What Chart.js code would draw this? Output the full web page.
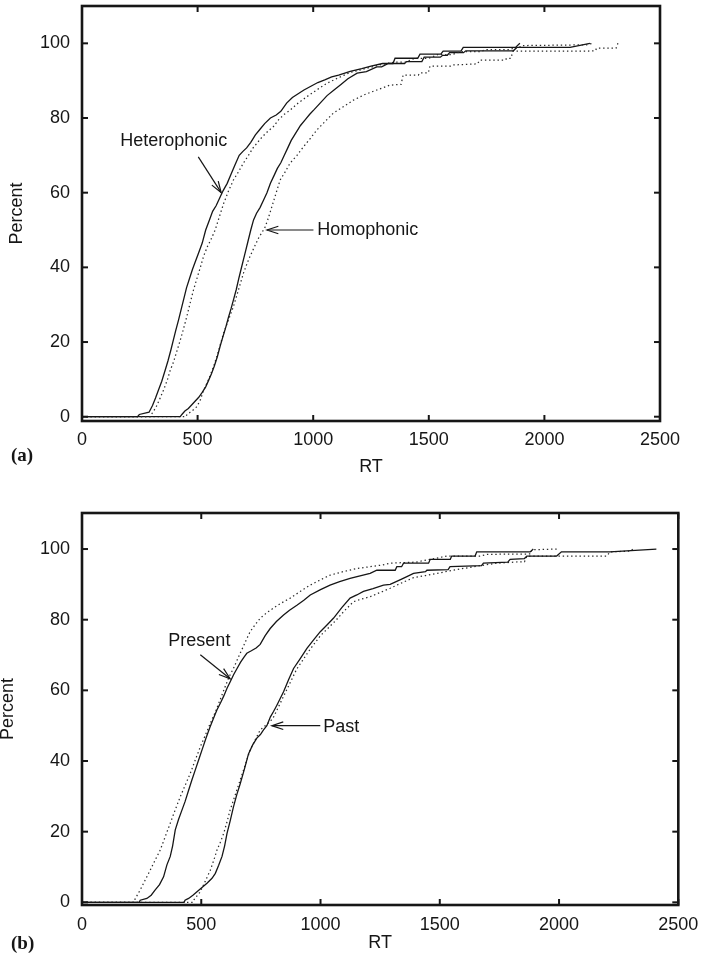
<!DOCTYPE html>
<html>
<head>
<meta charset="utf-8">
<script src="https://cdn.jsdelivr.net/npm/chart.js@4.4.1/dist/chart.umd.min.js"></script>
<style>
html,body{margin:0;padding:0;background:#fff;}
#wrap{position:relative;width:701px;height:955px;overflow:hidden;background:#fff;}
.panel{position:absolute;left:0;width:701px;}
canvas{display:block;}
</style>
</head>
<body>
<div id="wrap">
  <div class="panel" style="top:0;height:478px"><canvas id="ca" width="701" height="478" style="width:701px;height:478px"></canvas></div>
  <div class="panel" style="top:478px;height:477px"><canvas id="cb" width="701" height="477" style="width:701px;height:477px"></canvas></div>
</div>
<script>
// ---- tick labels / titles ----
const xTickValues = [0, 500, 1000, 1500, 2000, 2500];
const xTickLabels = ['0', '500', '1000', '1500', '2000', '2500'];
const yTickValues = [0, 20, 40, 60, 80, 100];
const yTickLabels = ['0', '20', '40', '60', '80', '100'];
const xTitle = 'RT';
const yTitle = 'Percent';

// ---- panel (a): [RT, cumulative percent] ----
const heteroSolid = [[0,0],[240,0],[248,0.6],[290,1.2],[305,3],[318,5],[330,7],[345,9.5],[360,12.5],[372,15],[385,18],[395,20.5],[405,23],[418,26],[430,29],[440,31.5],[452,34.5],[465,37],[478,39.5],[490,41.5],[505,44],[520,46.5],[535,50],[550,52.5],[565,55],[580,56.5],[595,58.5],[610,60.5],[628,62.5],[645,65],[662,67.5],[680,70],[695,71],[712,72],[730,73.5],[750,75.5],[770,77],[790,78.5],[815,80],[840,80.8],[860,81.8],[885,84],[910,85.5],[935,86.5],[960,87.5],[990,88.5],[1020,89.5],[1050,90.2],[1080,91],[1110,91.5],[1160,92.5],[1210,93.2],[1250,93.9],[1300,94.6],[1345,94.6],[1354,96],[1452,96],[1462,97.1],[1552,97.1],[1562,97.9],[1639,97.9],[1649,98.9],[1875,98.9],[1894,100]];
const heteroDotted = [[0,0],[295,0],[300,0.6],[320,2.5],[338,5],[355,7.5],[370,10],[382,12.5],[395,14.5],[410,17.5],[425,20.5],[439,23.5],[454,27],[468,30.5],[482,33.9],[497,37],[512,40],[526,43],[542,45.5],[558,47.5],[576,50],[594,53.5],[612,57],[634,60.5],[655,63.4],[676,65.5],[698,67.9],[720,70],[740,72],[756,73.2],[780,75],[805,76.5],[828,77.7],[850,79.5],[875,81],[900,82.1],[935,84],[972,85.7],[1015,87.5],[1059,89.3],[1110,90.8],[1160,92.2],[1230,93.3],[1300,94.4],[1354,95],[1400,95],[1440,96],[1500,96],[1540,97],[1600,97],[1640,97.8],[1720,97.8],[1750,98.3],[1850,98.3],[1870,98.8],[1890,98.8],[1900,99.4],[2180,99.6],[2210,100]];
const homoSolid = [[0,0],[425,0],[432,0.6],[445,1.5],[460,2.2],[475,3.2],[490,4.2],[505,5.2],[520,6.5],[535,8],[548,9.8],[560,11.5],[572,13.5],[585,16],[598,19],[610,21.5],[622,24],[633,26.5],[645,29],[656,31.5],[667,34],[678,37],[688,39.5],[698,42],[708,44.5],[718,47],[730,50],[742,52.7],[755,54.5],[770,56],[785,58],[800,60],[815,62.5],[830,64.5],[845,66.5],[860,68],[875,70],[890,72],[905,74],[925,76],[945,78],[965,79.5],[985,81],[1005,82.3],[1030,84],[1060,86],[1090,87.5],[1120,89],[1150,90.5],[1190,92],[1230,92.4],[1275,93.7],[1296,93.7],[1325,94.6],[1395,94.6],[1404,95.1],[1470,95.1],[1480,96.3],[1550,96.3],[1560,96.8],[1580,96.8],[1590,97.5],[1650,97.5],[1660,98],[1866,98],[1880,98.9],[2111,98.9],[2197,100]];
const homoDotted = [[0,0],[450,0],[454,0.6],[475,1.5],[497,2.7],[512,4.5],[526,7.1],[548,10],[569,13.4],[590,17.5],[612,22.3],[634,26],[655,29.5],[677,34],[698,38.4],[720,42],[742,45],[765,48],[790,50.5],[805,53],[821,56.2],[840,60],[857,63.4],[878,65.5],[900,67.9],[930,70],[958,72.3],[987,74.5],[1016,76.8],[1050,79],[1087,81.3],[1130,83],[1174,84.8],[1220,86.2],[1275,87.5],[1332,88.8],[1380,89],[1389,91.5],[1455,91.5],[1462,92.1],[1498,92.1],[1505,93.9],[1595,93.9],[1604,94.2],[1710,94.5],[1721,95.5],[1830,95.5],[1837,96],[1855,96],[1864,97.9],[2190,97.9],[2197,98],[2220,98],[2226,98.7],[2310,98.7],[2318,100]];

// ---- panel (b): [RT, cumulative percent] ----
const presentSolid = [[0,0],[240,0],[244,0.6],[272,1.1],[290,2],[307,3.5],[325,5],[342,7.2],[356,10.6],[370,13],[380,16],[391,20.5],[405,23.5],[419,26.1],[432,28.5],[446,31.5],[460,34.5],[475,37.5],[490,40.5],[505,43.5],[520,46.5],[536,49.5],[551,52],[566,54.5],[581,56.5],[595,58.5],[608,60.6],[622,62.5],[636,64.5],[650,66.2],[665,68],[680,69.5],[691,70.5],[710,71.2],[730,72],[747,73],[768,75.5],[789,77.5],[815,79.5],[845,81.3],[870,82.7],[901,84.1],[930,85.5],[957,87],[1000,88.5],[1040,89.8],[1080,90.8],[1124,91.7],[1170,92.5],[1208,93.1],[1236,94],[1313,94],[1320,95],[1340,95],[1348,96],[1453,96],[1460,97.1],[1544,97.1],[1550,98],[1648,98],[1655,99.2],[1879,99.2],[1892,100]];
const presentDotted = [[0,0],[218,0],[223,1],[244,3.5],[265,6.3],[286,9.1],[307,12],[328,14.8],[349,18.6],[370,22.4],[391,26.2],[412,29.9],[433,33.2],[454,36.5],[475,40.3],[496,44],[517,47.3],[538,50.7],[560,54],[580,57.5],[600,61],[618,64],[635,66.2],[650,68.5],[663,70.5],[677,72.5],[690,74.5],[705,76.6],[725,78.5],[747,80.4],[775,82],[803,83.3],[838,84.8],[873,86.1],[915,88],[957,89.8],[1000,91.3],[1040,92.6],[1095,93.6],[1152,94.5],[1208,95],[1260,95.5],[1292,96],[1400,96.3],[1446,96.9],[1530,98],[1669,98],[1700,98.5],[1880,98.6],[1886,99.8],[1996,100]];
const pastSolid = [[0,0],[428,0],[432,0.6],[447,1.1],[465,2],[482,3],[503,4.2],[524,5.4],[545,6.8],[559,8.2],[573,10.5],[587,13],[598,16],[608,19.5],[621,23],[635,27],[649,30.5],[663,33.5],[680,37.5],[698,42],[715,44.5],[733,46.5],[748,47.5],[761,48.8],[775,50],[790,52.5],[803,54],[817,55.8],[831,57.7],[845,59.6],[866,63],[887,66.2],[915,69],[943,71.9],[971,74.3],[999,76.6],[1027,78.5],[1054,80.4],[1090,83.5],[1124,86.1],[1152,87],[1180,88],[1220,88.8],[1264,89.8],[1292,90],[1340,91.5],[1362,92.2],[1390,93.1],[1440,93.6],[1446,94],[1535,94.2],[1543,95],[1675,95.3],[1683,96],[1785,96.3],[1795,97.1],[1855,97.3],[1865,98],[1990,98],[2010,99.2],[2213,99.2],[2408,100]];
const pastDotted = [[0,0],[465,0],[470,0.8],[496,3],[517,6],[538,9.1],[552,11.8],[566,14.8],[580,17],[594,19.5],[608,22.8],[621,26.1],[642,30.3],[663,34.6],[684,38.8],[705,43.1],[726,46],[747,48.8],[772,50.2],[800,52],[825,55.5],[850,59],[875,62.5],[900,66],[925,68.5],[950,71],[975,73.3],[1000,75.5],[1030,77.5],[1060,79.5],[1100,82.5],[1138,85.1],[1170,85.8],[1208,86.5],[1250,87.7],[1292,88.9],[1340,90.4],[1390,91.9],[1440,92.5],[1488,93.1],[1540,93.8],[1599,94.5],[1670,95.3],[1739,96],[1837,96.4],[1855,96.4],[1865,98],[2200,98],[2214,99.2],[2300,99.4],[2310,100]];

const FONT = "'Liberation Sans', Arial, Helvetica, sans-serif";
const INK = '#161616';

function series(points, dotted) {
  return {
    data: points.map(p => ({x: p[0], y: p[1]})),
    borderColor: dotted ? '#2a2a2a' : INK,
    borderWidth: dotted ? 1.25 : 1.3,
    borderDash: dotted ? [1.4, 2.8] : [],
    pointRadius: 0,
    fill: false,
    tension: 0
  };
}

const framePlugin = {
  id: 'frame',
  afterDraw(chart, args, o) {
    const {ctx, chartArea: a} = chart;
    const x = chart.scales.x, y = chart.scales.y;
    ctx.save();
    ctx.strokeStyle = INK;
    const seg = (x1, y1, x2, y2) => { ctx.beginPath(); ctx.moveTo(x1, y1); ctx.lineTo(x2, y2); ctx.stroke(); };
    ctx.lineWidth = 2;
    x.ticks.forEach(t => {
      const p = x.getPixelForValue(t.value);
      seg(p, a.bottom, p, a.bottom - o.tick);
      seg(p, a.top, p, a.top + o.tick);
    });
    y.ticks.forEach(t => {
      const p = y.getPixelForValue(t.value);
      seg(a.left, p, a.left + o.tick, p);
      seg(a.right, p, a.right - o.tick, p);
    });
    ctx.lineWidth = 2.6;
    ctx.strokeRect(a.left, a.top, a.right - a.left, a.bottom - a.top);
    // arrows
    ctx.lineWidth = 1.2;
    o.arrows.forEach(ar => {
      const x1 = x.getPixelForValue(ar.from[0]), y1 = y.getPixelForValue(ar.from[1]);
      const x2 = x.getPixelForValue(ar.to[0]), y2 = y.getPixelForValue(ar.to[1]);
      seg(x1, y1, x2, y2);
      const ang = Math.atan2(y2 - y1, x2 - x1), L = 12, w = 0.32;
      ctx.beginPath();
      ctx.moveTo(x2 - L * Math.cos(ang - w), y2 - L * Math.sin(ang - w));
      ctx.lineTo(x2, y2);
      ctx.lineTo(x2 - L * Math.cos(ang + w), y2 - L * Math.sin(ang + w));
      ctx.stroke();
    });
    // labels
    ctx.fillStyle = INK;
    ctx.font = '18px ' + FONT;
    ctx.textAlign = 'left';
    ctx.textBaseline = 'alphabetic';
    o.labels.forEach(l => {
      ctx.fillText(l.text, x.getPixelForValue(l.at[0]), y.getPixelForValue(l.at[1]));
    });
    ctx.font = "bold 19px 'Liberation Serif', 'Times New Roman', serif";
    ctx.fillText(o.panel, o.panelPos[0], o.panelPos[1]);
    ctx.restore();
  }
};

function makePanel(id, datasets, cfg) {
  return new Chart(document.getElementById(id), {
    type: 'line',
    data: {datasets},
    plugins: [framePlugin],
    options: {
      responsive: false,
      animation: false,
      devicePixelRatio: 1,
      events: [],
      layout: {autoPadding: false, padding: cfg.padding},
      plugins: {
        legend: {display: false},
        tooltip: {enabled: false},
        frame: cfg.frame
      },
      scales: {
        x: {
          type: 'linear',
          min: 0, max: 2500,
          afterBuildTicks: s => { s.ticks = xTickValues.map(v => ({value: v})); },
          afterFit: s => { s.height = cfg.xAxisHeight; s.paddingLeft = 0; s.paddingRight = 0; },
          grid: {display: false, drawTicks: false},
          border: {display: false},
          ticks: {
            padding: cfg.xTickPad, color: INK, maxRotation: 0, autoSkip: false,
            font: {family: FONT, size: 18},
            callback: v => xTickLabels[xTickValues.indexOf(v)]
          },
          title: {display: true, text: xTitle, color: INK, font: {family: FONT, size: 18}, padding: {top: 0, bottom: cfg.xTitlePad}}
        },
        y: {
          type: 'linear',
          min: cfg.ymin, max: cfg.ymax,
          afterBuildTicks: s => { s.ticks = yTickValues.map(v => ({value: v})); },
          afterFit: s => { s.width = 82; s.paddingTop = 0; s.paddingBottom = 0; },
          grid: {display: false, drawTicks: false},
          border: {display: false},
          ticks: {
            padding: 12, color: INK, autoSkip: false,
            font: {family: FONT, size: 18},
            callback: v => yTickLabels[yTickValues.indexOf(v)]
          },
          title: {display: true, text: yTitle, color: INK, font: {family: FONT, size: 18, lineHeight: cfg.yTitleLH}, padding: {top: cfg.yTitlePad, bottom: 0}}
        }
      }
    }
  });
}

makePanel('ca', [
  series(heteroSolid, false), series(heteroDotted, true),
  series(homoSolid, false), series(homoDotted, true)
], {
  padding: {left: 0, right: 41, top: 6, bottom: 0},
  xAxisHeight: 57, xTickPad: 8, xTitlePad: 0.5,
  yTitleLH: 1.2, yTitlePad: 5.9,
  ymin: -1.15, ymax: 110,
  frame: {
    tick: 6,
    panel: '(a)', panelPos: [11, 461],
    labels: [{text: 'Heterophonic', at: [165, 72.6]}, {text: 'Homophonic', at: [1017, 48.7]}],
    arrows: [{from: [503, 69.6], to: [602, 60]}, {from: [1001, 50], to: [800, 50]}]
  }
});

makePanel('cb', [
  series(presentSolid, false), series(presentDotted, true),
  series(pastSolid, false), series(pastDotted, true)
], {
  padding: {left: 0, right: 22.7, top: 35, bottom: 0},
  xAxisHeight: 50, xTickPad: 9.2, xTitlePad: 1.2,
  yTitleLH: 0.84, yTitlePad: 0,
  ymin: -0.76, ymax: 110.2,
  frame: {
    tick: 6,
    panel: '(b)', panelPos: [11, 471],
    labels: [{text: 'Present', at: [362, 72.5]}, {text: 'Past', at: [1011, 48.3]}],
    arrows: [{from: [496, 70.1], to: [621, 63.3]}, {from: [999, 50], to: [796, 50]}]
  }
});
</script>
</body>
</html>
